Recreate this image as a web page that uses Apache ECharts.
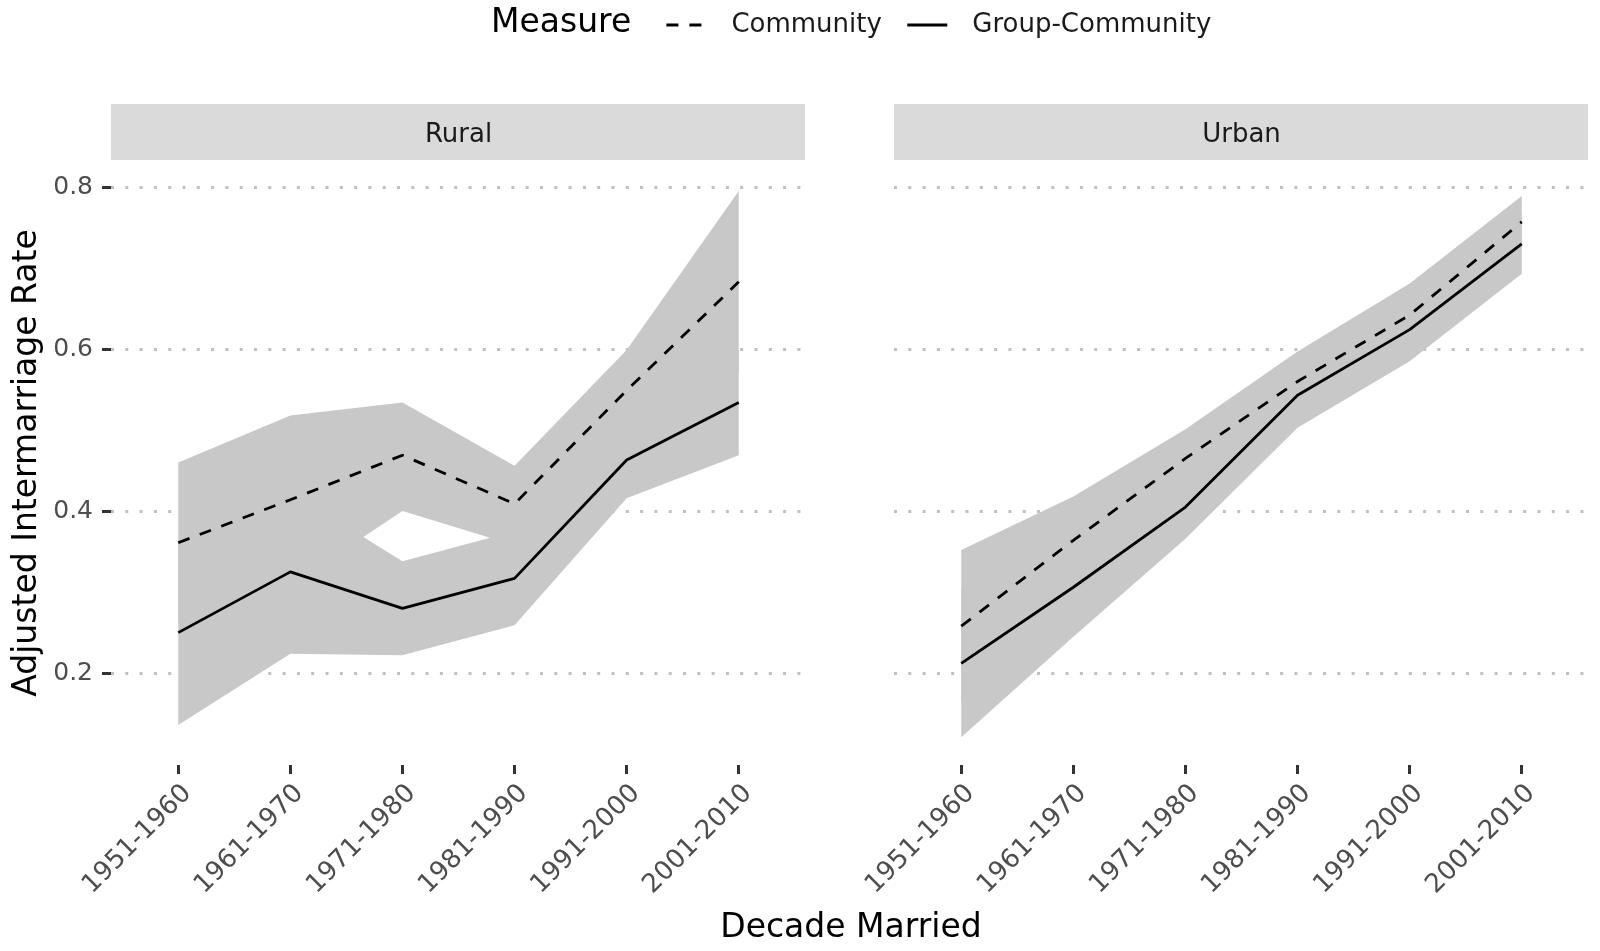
<!DOCTYPE html>
<html>
<head>
<meta charset="utf-8">
<script src="https://cdn.jsdelivr.net/npm/echarts@6/dist/echarts.min.js"></script>
<style>html,body{margin:0;padding:0;background:#fff}#c{width:1600px;height:951px}</style>
</head>
<body>
<div id="c"></div>
<script>
// ---- data ----
const decades = ['1951-1960','1961-1970','1971-1980','1981-1990','1991-2000','2001-2010'];
const panels = ['Rural','Urban'];
const measures = ['Community','Group-Community'];
const yTicks = [0.2, 0.4, 0.6, 0.8];

// Rural
const ruralCommunity     = [0.361, 0.414, 0.469, 0.409, 0.549, 0.683];
const ruralCommunityLow  = [0.262, 0.308, 0.400, 0.358, 0.499, 0.571];
const ruralCommunityHigh = [0.460, 0.518, 0.534, 0.456, 0.599, 0.795];
const ruralGroup         = [0.250, 0.325, 0.280, 0.317, 0.463, 0.534];
const ruralGroupLow      = [0.136, 0.224, 0.222, 0.259, 0.416, 0.469];
const ruralGroupHigh     = [0.364, 0.424, 0.338, 0.375, 0.510, 0.599];
// Urban
const urbanCommunity     = [0.258, 0.364, 0.465, 0.560, 0.642, 0.757];
const urbanCommunityLow  = [0.164, 0.310, 0.429, 0.523, 0.603, 0.725];
const urbanCommunityHigh = [0.352, 0.418, 0.501, 0.597, 0.681, 0.789];
const urbanGroup         = [0.212, 0.306, 0.405, 0.543, 0.624, 0.730];
const urbanGroupLow      = [0.121, 0.245, 0.366, 0.503, 0.585, 0.693];
const urbanGroupHigh     = [0.303, 0.367, 0.444, 0.583, 0.663, 0.767];

const FONT = 'DejaVu Sans';
const RIBBON = '#c8c8c8';
const Y_MIN = 0.0866, Y_MAX = 0.8334;
const xIdx = decades.map((d, i) => i);

const chart = echarts.init(document.getElementById('c'), null, {renderer: 'canvas'});

function ribbonSeries(gi, low, high, name) {
  return {
    type: 'custom', name: name + ' CI', xAxisIndex: gi, yAxisIndex: gi, silent: true,
    data: xIdx.map(i => [i, low[i], high[i]]),
    encode: {x: 0, y: [1, 2]},
    renderItem: function (params, api) {
      if (params.dataIndex !== 0) return null;
      const pts = [];
      for (let i = 0; i < xIdx.length; i++) pts.push(api.coord([xIdx[i], high[i]]));
      for (let i = xIdx.length - 1; i >= 0; i--) pts.push(api.coord([xIdx[i], low[i]]));
      return {type: 'polygon', shape: {points: pts}, style: {fill: RIBBON, stroke: null}};
    },
    z: 1
  };
}
function lineSeries(gi, vals, name, dashed) {
  return {
    type: 'line', name: name, xAxisIndex: gi, yAxisIndex: gi,
    data: xIdx.map(i => [i, vals[i]]),
    symbol: 'none', showSymbol: false, silent: true,
    lineStyle: {color: '#000', width: 2.8, type: dashed ? [12, 11] : 'solid'},
    itemStyle: {color: '#000'},
    z: 3
  };
}

const gridLeft = [111, 894], gridW = 695, gridTop = 160, gridH = 605;

const xAxes = [0, 1].map(gi => ({
  gridIndex: gi, type: 'value', min: -0.6, max: 5.6,
  axisLine: {show: false, onZero: false},
  splitLine: {show: false},
  axisTick: {show: true, customValues: xIdx, length: 9, lineStyle: {color: '#333', width: 3}},
  axisLabel: {
    customValues: xIdx, rotate: 45, margin: 15, align: 'right', verticalAlign: 'top',
    formatter: v => decades[Math.round(v)] || '',
    fontFamily: FONT, fontSize: 26, color: '#4d4d4d'
  }
}));
const yAxes = [0, 1].map(gi => ({
  gridIndex: gi, type: 'value', min: Y_MIN, max: Y_MAX, minInterval: 0.2, maxInterval: 0.2,
  axisLine: {show: false, onZero: false},
  axisTick: {show: gi === 0, customValues: yTicks, length: 9, lineStyle: {color: '#333', width: 3}},
  axisLabel: {
    show: gi === 0, customValues: yTicks, margin: 18,
    formatter: v => v.toFixed(1),
    fontFamily: FONT, fontSize: 25, color: '#4d4d4d'
  },
  splitLine: {show: true,
    lineStyle: {color: '#c0c0c0', width: 3, type: [3, 11.3]}}
}));

const series = [
  ribbonSeries(0, ruralCommunityLow, ruralCommunityHigh, measures[0]),
  ribbonSeries(0, ruralGroupLow, ruralGroupHigh, measures[1]),
  ribbonSeries(1, urbanCommunityLow, urbanCommunityHigh, measures[0]),
  ribbonSeries(1, urbanGroupLow, urbanGroupHigh, measures[1]),
  lineSeries(0, ruralCommunity, measures[0], true),
  lineSeries(0, ruralGroup, measures[1], false),
  lineSeries(1, urbanCommunity, measures[0], true),
  lineSeries(1, urbanGroup, measures[1], false)
];

const stripH = 56, stripTop = 104;
const graphic = [];
panels.forEach((p, gi) => {
  graphic.push({type: 'rect', left: gridLeft[gi], top: stripTop, shape: {width: gridW - 1, height: stripH}, style: {fill: '#dadada'}, silent: true});
  graphic.push({type: 'text', x: gridLeft[gi] + gridW / 2, y: stripTop + stripH / 2 + 3,
    style: {text: p, fontFamily: FONT, fontSize: 26, fill: '#1a1a1a', textAlign: 'center', textVerticalAlign: 'middle'}, silent: true});
});
graphic.push({type: 'text', x: 851, y: 928,
  style: {text: 'Decade Married', fontFamily: FONT, fontSize: 33, fill: '#000', textAlign: 'center', textVerticalAlign: 'middle'}, silent: true});
graphic.push({type: 'text', x: 27, y: 463, rotation: Math.PI / 2,
  style: {text: 'Adjusted Intermarriage Rate', fontFamily: FONT, fontSize: 33, fill: '#000', textAlign: 'center', textVerticalAlign: 'middle'}, silent: true});
graphic.push({type: 'text', x: 491, y: 23,
  style: {text: 'Measure', fontFamily: FONT, fontSize: 33, fill: '#000', textAlign: 'left', textVerticalAlign: 'middle'}, silent: true});

chart.setOption({
  animation: false,
  backgroundColor: '#fff',
  grid: [0, 1].map(gi => ({left: gridLeft[gi], top: gridTop, width: gridW, height: gridH, containLabel: false})),
  xAxis: xAxes,
  yAxis: yAxes,
  legend: {
    data: measures, left: 660, top: 7, itemWidth: 40, itemHeight: 14, itemGap: 24,
    selectedMode: false,
    textStyle: {fontFamily: FONT, fontSize: 26, color: '#1a1a1a', padding: [0, 0, 0, 20]},
    lineStyle: {width: 2.8},
    itemStyle: {opacity: 0}
  },
  graphic: graphic,
  series: series
});
</script>
</body>
</html>
